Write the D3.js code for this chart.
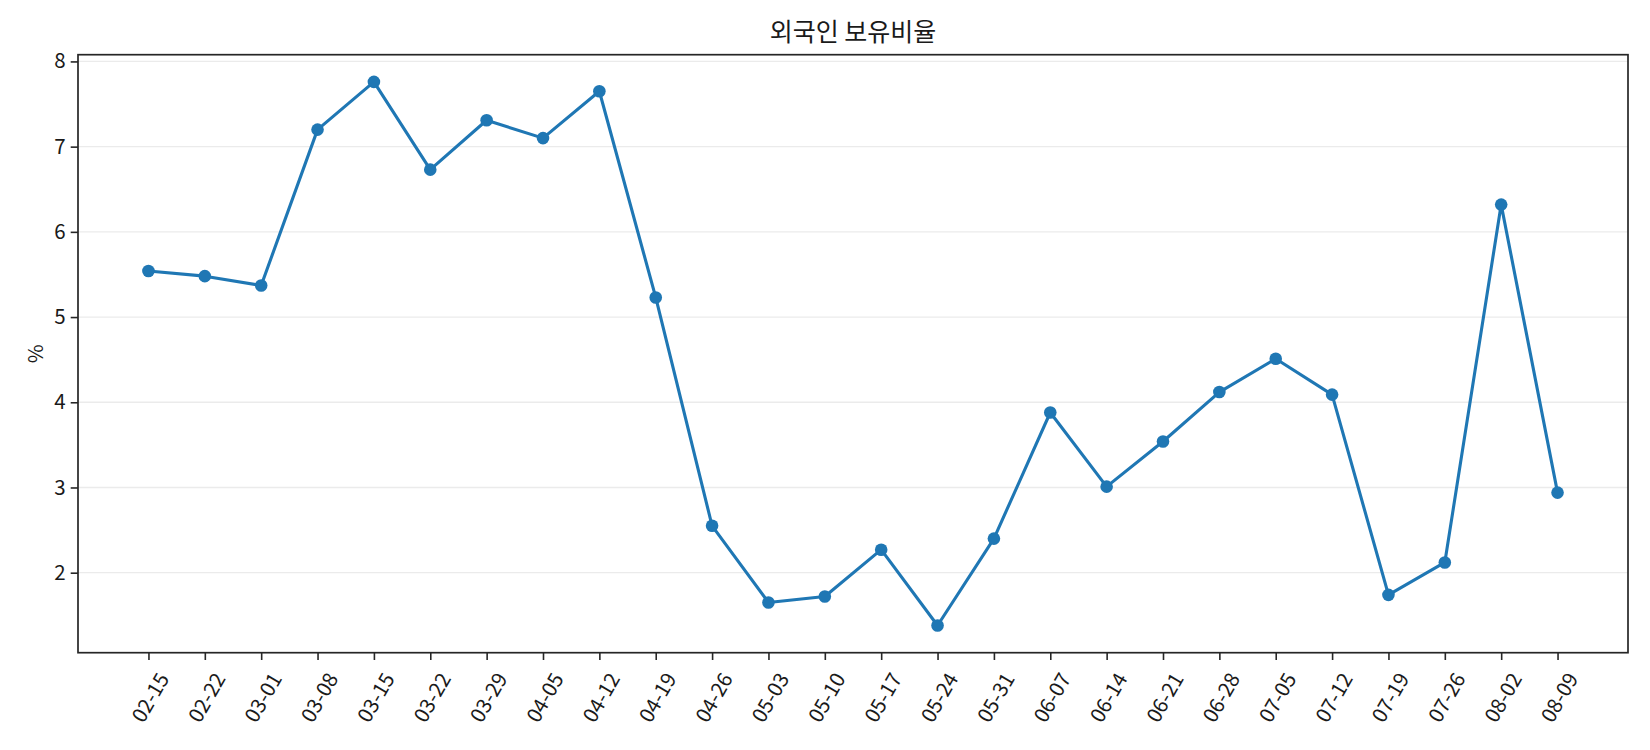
<!DOCTYPE html>
<html>
<head>
<meta charset="utf-8">
<script src="https://cdn.jsdelivr.net/npm/d3@7"></script>
<style>
  body { margin: 0; background: #fff; }
  text { font-family: "Noto Sans CJK KR", "Noto Sans", sans-serif; fill: #1a1a1a; }
</style>
</head>
<body>
<div id="chart"></div>
<script>
// weekly dates and foreign ownership ratio (%)
var dates = ["02-15", "02-22", "03-01", "03-08", "03-15", "03-22", "03-29", "04-05", "04-12",
  "04-19", "04-26", "05-03", "05-10", "05-17", "05-24", "05-31", "06-07", "06-14", "06-21",
  "06-28", "07-05", "07-12", "07-19", "07-26", "08-02", "08-09"];
var values = [5.54, 5.48, 5.37, 7.20, 7.76, 6.73, 7.31, 7.10, 7.65,
  5.23, 2.55, 1.65, 1.72, 2.27, 1.38, 2.40, 3.88, 3.01, 3.54,
  4.12, 4.51, 4.09, 1.74, 2.12, 6.32, 2.94];
var yTicks = [2, 3, 4, 5, 6, 7, 8];

var W = 1650, H = 750;
var margin = {top: 54.7, right: 22, bottom: 97.3, left: 78};
var iw = W - margin.left - margin.right;
var ih = H - margin.top - margin.bottom;

var svg = d3.select("#chart").append("svg")
  .attr("width", W)
  .attr("height", H);

var g = svg.append("g")
  .attr("transform", "translate(" + margin.left + "," + margin.top + ")");

// matplotlib style 5% margins
var n = dates.length;
var x = d3.scaleLinear()
  .domain([-0.05 * (n - 1), (n - 1) * 1.05])
  .range([0, iw]);

var ymin = d3.min(values), ymax = d3.max(values);
var pad = (ymax - ymin) * 0.05;
var y = d3.scaleLinear()
  .domain([ymin - pad, ymax + pad])
  .range([ih, 0]);

//grid
g.append("g").selectAll("line")
  .data(yTicks)
  .enter().append("line")
  .attr("x1", 0)
  .attr("x2", iw)
  .attr("y1", d => y(d))
  .attr("y2", d => y(d))
  .attr("stroke", "#ebebeb")
  .attr("stroke-width", 1.3);

//y axis
var yAxis = g.append("g")
  .call(d3.axisLeft(y).tickValues(yTicks).tickFormat(d3.format("d")).tickSize(7.3).tickPadding(5));
yAxis.select(".domain").remove();
yAxis.selectAll(".tick line").attr("stroke", "#262626").attr("stroke-width", 1.6);
yAxis.selectAll(".tick text").style("font-size", "20.5px").attr("fill", "#1a1a1a");

//x axis
var xAxis = g.append("g")
  .attr("transform", "translate(0," + ih + ")")
  .call(d3.axisBottom(x).tickValues(d3.range(n)).tickFormat(i => dates[i]).tickSize(7.3));
xAxis.select(".domain").remove();
xAxis.selectAll(".tick line").attr("stroke", "#262626").attr("stroke-width", 1.6);
xAxis.selectAll(".tick text")
  .style("font-size", "20.5px")
  .attr("fill", "#1a1a1a")
  .attr("y", 0)
  .attr("dy", null)
  .attr("text-anchor", "middle")
  .attr("dominant-baseline", "central")
  .attr("transform", "translate(0,44) rotate(-60)");

//frame
g.append("rect")
  .attr("width", iw)
  .attr("height", ih)
  .attr("fill", "none")
  .attr("stroke", "#262626")
  .attr("stroke-width", 1.7);

//line + markers
var line = d3.line()
  .x((d, i) => x(i))
  .y(d => y(d));

g.append("path")
  .datum(values)
  .attr("d", line)
  .attr("fill", "none")
  .attr("stroke", "#1f77b4")
  .attr("stroke-width", 3.1)
  .attr("stroke-linejoin", "round");

g.selectAll(".dot")
  .data(values)
  .enter().append("circle")
  .attr("class", "dot")
  .attr("cx", (d, i) => x(i))
  .attr("cy", d => y(d))
  .attr("r", 6.3)
  .attr("fill", "#1f77b4");

//title
svg.append("text")
  .attr("x", margin.left + iw / 2)
  .attr("y", 41)
  .attr("text-anchor", "middle")
  .style("font-size", "25px")
  .text("외국인 보유비율");

//y label
svg.append("text")
  .attr("transform", "translate(34," + (margin.top + ih / 2) + ") rotate(-90)")
  .attr("text-anchor", "middle")
  .attr("dominant-baseline", "central")
  .style("font-size", "20.5px")
  .text("%");
</script>
</body>
</html>
